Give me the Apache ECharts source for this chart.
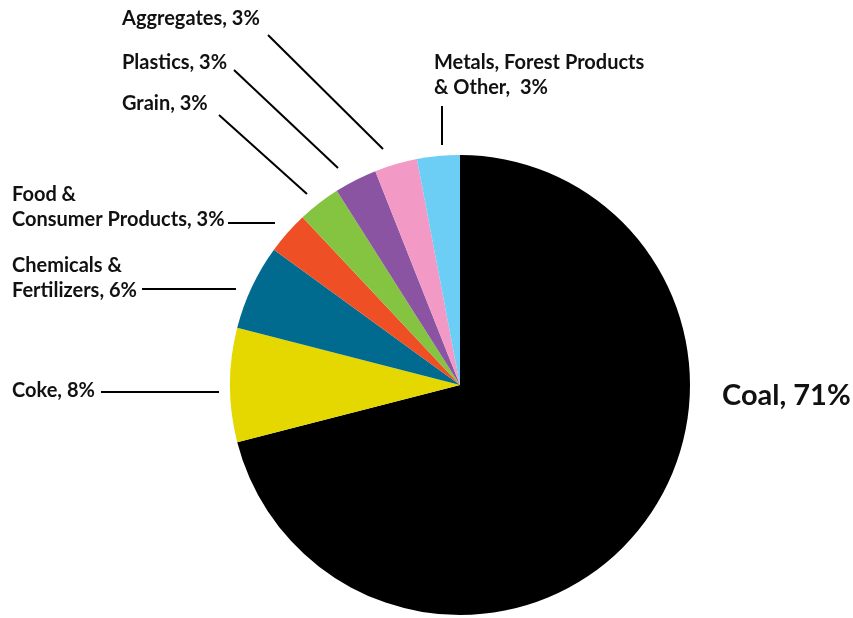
<!DOCTYPE html>
<html><head><meta charset="utf-8">
<script src="https://cdn.jsdelivr.net/npm/echarts@6/dist/echarts.min.js"></script>
<style>html,body{margin:0;padding:0;background:#fff}#c{width:853px;height:618px}</style>
</head><body><div id="c"></div>
<script>
const categories = ['Coal', 'Coke', 'Chemicals &\nFertilizers', 'Food &\nConsumer Products', 'Grain', 'Plastics', 'Aggregates', 'Metals, Forest Products\n& Other'];
const shares = [71, 8, 6, 3, 3, 3, 3, 3];
const colors = ['#000000', '#e4d800', '#006b8f', '#ee4f24', '#85c441', '#8a54a2', '#f29ac5', '#6ccef5'];
const separators = [', ', ', ', ', ', ', ', ', ', ', ', ', ', ',  '];

// label placement (style only): x, y(top), leader line
const placement = [
  { x: 722, y: 381, line: null },
  { x: 12, y: 378, line: [[101, 392], [219, 392]] },
  { x: 12, y: 253, line: [[142, 289], [236, 289]] },
  { x: 12, y: 182, line: [[228, 223], [275, 223]] },
  { x: 122, y: 91, line: [[219, 115], [307, 194]] },
  { x: 122, y: 50, line: [[234, 70], [338, 168]] },
  { x: 122, y: 6, line: [[268, 35], [383, 149]] },
  { x: 434, y: 50, line: [[442, 106], [442, 145]] }
];

const chart = echarts.init(document.getElementById('c'), null, { renderer: 'canvas' });
chart.setOption({
  animation: false,
  series: [{
    type: 'pie',
    center: [460, 385],
    radius: 230,
    startAngle: 90,
    clockwise: true,
    data: categories.map((n, i) => ({
      name: n,
      value: shares[i],
      itemStyle: { color: colors[i] },
      label: i === 0 ? { fontSize: 29, lineHeight: 30 } : {},
      labelLine: { show: i !== 0 }
    })),
    label: {
      show: true,
      formatter: p => p.name + separators[p.dataIndex] + p.value + '%',
      fontFamily: 'Lato',
      fontWeight: 'bold',
      fontSize: 20,
      lineHeight: 25,
      color: '#111',
      align: 'left',
      overflow: 'none'
    },
    labelLine: { show: true, lineStyle: { color: '#000', width: 2 } },
    labelLayout: function (params) {
      const p = placement[params.dataIndex];
      const r = { x: p.x, y: p.y, align: 'left', verticalAlign: 'top', width: 320 };
      if (p.line) r.labelLinePoints = [p.line[0], p.line[0], p.line[1]];
      return r;
    },
    emphasis: { disabled: true }
  }]
});
</script></body></html>
